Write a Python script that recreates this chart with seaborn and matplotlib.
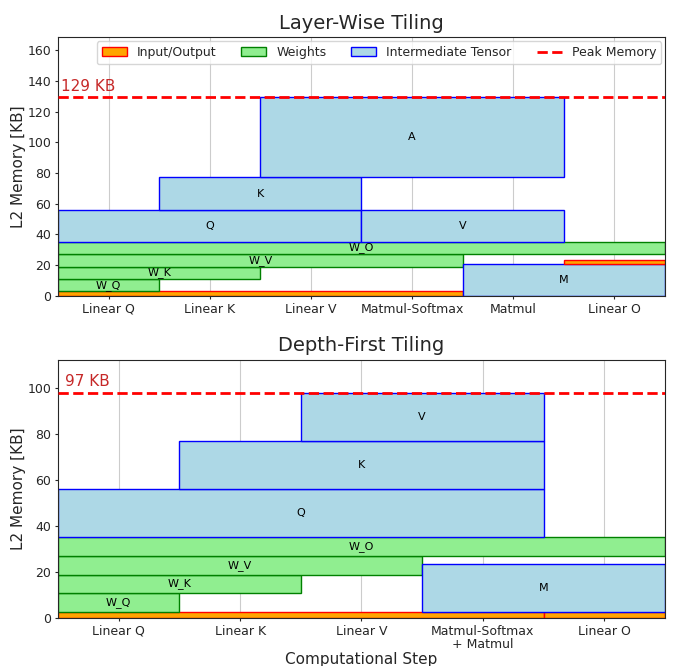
import seaborn as sns
import matplotlib.pyplot as plt
from matplotlib.patches import Patch
from matplotlib.lines import Line2D

# Layer-wise tiling (top)
lw_steps = ['Linear Q', 'Linear K', 'Linear V', 'Matmul-Softmax', 'Matmul', 'Linear O']
lw_names = ['Input', 'W_Q', 'W_K', 'W_V', 'W_O', 'Q', 'K', 'V', 'A', 'M', 'Output']
lw_kind = ['io', 'w', 'w', 'w', 'w', 't', 't', 't', 't', 't', 'io']
lw_first = [0, 0, 0, 0, 0, 0, 1, 3, 2, 4, 5]
lw_last = [3, 0, 1, 3, 5, 2, 2, 4, 4, 5, 5]
lw_offset = [0, 2.7, 10.8, 18.9, 27.0, 35.1, 56.1, 35.1, 77.1, 0, 20.8]
lw_size = [2.7, 8.1, 8.1, 8.1, 8.1, 21.0, 21.0, 21.0, 52.5, 20.8, 2.7]

# Depth-first tiling (bottom)
df_steps = ['Linear Q', 'Linear K', 'Linear V', 'Matmul-Softmax\n+ Matmul', 'Linear O']
df_names = ['Input', 'Output', 'W_Q', 'W_K', 'W_V', 'W_O', 'Q', 'K', 'V', 'M']
df_kind = ['io', 'io', 'w', 'w', 'w', 'w', 't', 't', 't', 't']
df_first = [0, 4, 0, 0, 0, 0, 0, 1, 2, 3]
df_last = [3, 4, 0, 1, 2, 4, 3, 3, 3, 4]
df_offset = [0, 0, 2.7, 10.8, 18.9, 27.0, 35.1, 56.1, 77.1, 2.7]
df_size = [2.7, 2.7, 8.1, 8.1, 8.1, 8.1, 21.0, 21.0, 20.7, 20.8]

styles = {'io': ('orange', 'red'), 'w': ('lightgreen', 'green'), 't': ('lightblue', 'blue')}

sns.set_style('ticks')
plt.rcParams['font.family'] = ['DejaVu Sans']

fig, axes = plt.subplots(2, 1, figsize=(6.75, 6.66), dpi=100)
plt.subplots_adjust(left=0.086, right=0.985, top=0.944, bottom=0.072, hspace=0.248)


def draw(ax, steps, names, kind, first, last, offset, size, title, ylim_fac, label_x):
    peak = 0
    for n, k, a, b, off, s in zip(names, kind, first, last, offset, size):
        fc, ec = styles[k]
        ax.bar(x=a - 0.5, height=s, width=b - a + 1, bottom=off, align='edge',
               color=fc, edgecolor=ec, linewidth=1, zorder=2)
        if k != 'io':
            ax.text((a + b) / 2, off + s / 2, n, ha='center', va='center', fontsize=8,
                    color='black', zorder=3)
        peak = max(peak, off + s)
    ax.axhline(peak, color='red', linestyle='--', linewidth=2, zorder=4)
    ax.text(label_x, peak + 2, f'{int(peak)} KB', color='#c62828', fontsize=11, va='bottom')
    ax.set_xlim(-0.5, len(steps) - 0.5)
    ax.set_ylim(0, peak * ylim_fac)
    ax.set_xticks(range(len(steps)))
    ax.set_xticklabels(steps, fontsize=9, linespacing=1.0)
    ax.tick_params(axis='both', labelsize=9, length=2.5, pad=2.5)
    ax.set_ylabel('L2 Memory [KB]', fontsize=11, labelpad=1)
    ax.set_title(title, fontsize=14)
    ax.grid(axis='x', color='#cccccc', linewidth=0.8, zorder=0)
    ax.set_axisbelow(True)


draw(axes[0], lw_steps, lw_names, lw_kind, lw_first, lw_last, lw_offset, lw_size,
     'Layer-Wise Tiling', 1.3, -0.47)
draw(axes[1], df_steps, df_names, df_kind, df_first, df_last, df_offset, df_size,
     'Depth-First Tiling', 1.15, -0.44)
axes[1].set_xlabel('Computational Step', fontsize=11, labelpad=1)

handles = [Patch(facecolor='orange', edgecolor='red', label='Input/Output'),
           Patch(facecolor='lightgreen', edgecolor='green', label='Weights'),
           Patch(facecolor='lightblue', edgecolor='blue', label='Intermediate Tensor'),
           Line2D([0], [0], color='red', linestyle='--', linewidth=2, label='Peak Memory')]
axes[0].legend(handles=handles, loc='upper right', ncol=4, fontsize=9, borderaxespad=0.3)

plt.savefig('out.png', dpi=100)
